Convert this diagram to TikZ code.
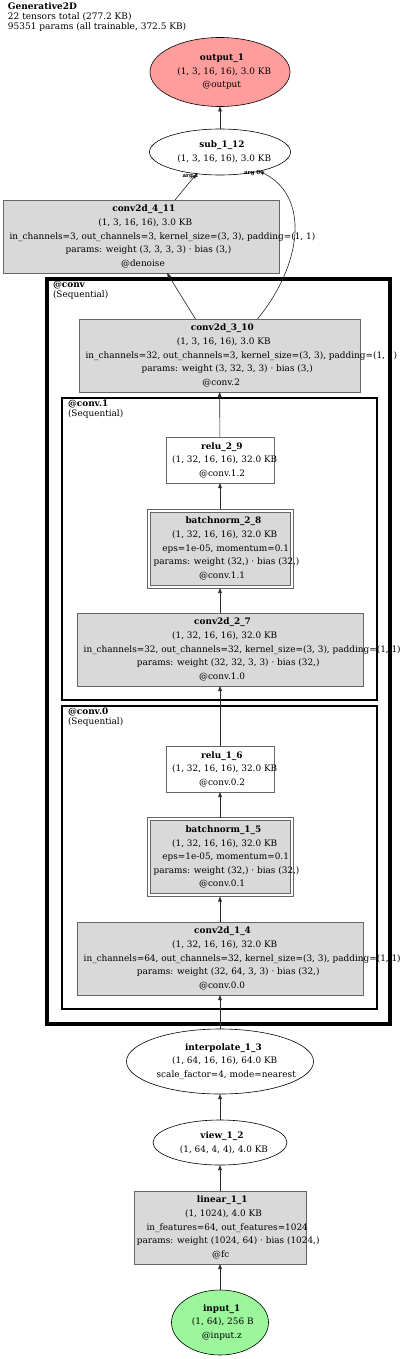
\documentclass[tikz,border=0pt]{standalone}
\usepackage{fontspec}
\setmainfont{DejaVu Serif}
\usepackage{tikz}
\usetikzlibrary{positioning, calc, shapes.geometric, arrows.meta}

\definecolor{opfill}{HTML}{D9D9D9}
\definecolor{opdraw}{HTML}{666666}
\definecolor{outfill}{HTML}{FF9C9C}
\definecolor{infill}{HTML}{9CF79C}

% graphviz starts each line a bit left of true centre
\newlength{\gvw}
\newcommand{\gvline}[1]{\settowidth{\gvw}{#1}%
  \ifdim\gvw>200pt\gvw=0.43\gvw\else\gvw=0.455\gvw\fi
  \makebox[0pt][l]{\hspace{-\gvw}#1}}

\begin{document}
\begin{tikzpicture}[
            x=1pt, y=-1pt,
            every node/.style={inner sep=0pt, outer sep=0pt},
            txt/.style={align=center, font=\fontsize{8.9}{13.6}\selectfont},
            op/.style={rectangle, draw=opdraw, fill=opfill, line width=0.7pt, txt},
            act/.style={op, fill=white},
            bnorm/.style={op},
            blob/.style={ellipse, draw=black, line width=0.6pt, fill=white, txt},
            outp/.style={blob, fill=outfill},
            inp/.style={blob, fill=infill},
            grp/.style={draw=black, line width=#1},
            grplabel/.style={anchor=north west, align=left, font=\fontsize{8.9}{9.8}\selectfont},
            frame/.style={draw=opdraw, line width=0.7pt},
            link/.style={->, >={Triangle[length=5pt, width=3.6pt]}, line width=0.6pt, black!85},
            arglabel/.style={font=\fontsize{5.6}{5.6}\selectfont\bfseries, black}
        ]
            \useasboundingbox (0,0) rectangle (400,1359);

            % --- Header ---
            \node[grplabel, font=\fontsize{9}{10}\selectfont] (title) at (8,3)
              {\textbf{Generative2D}\\22 tensors total (277.2 KB)\\95351 params (all trainable, 372.5 KB)};

            % --- Clusters ---
            \draw[grp=3.6pt] (47,279) rectangle (390,1024);
            \node[grplabel] (lblconv) at (53,281) {\textbf{@conv}\\(Sequential)};
            \draw[grp=2.6pt] (62,398) rectangle (377,700);
            \node[grplabel] (lblconv1) at (68,400) {\textbf{@conv.1}\\(Sequential)};
            \draw[grp=2.6pt] (62,706) rectangle (377,1009);
            \node[grplabel] (lblconv0) at (68,708) {\textbf{@conv.0}\\(Sequential)};

            % --- Node Placement ---
            \node[outp, minimum width=140pt, minimum height=69pt] (out) at (220,72)
              {\gvline{\textbf{output\_1}}\\\gvline{(1, 3, 16, 16), 3.0 KB}\\\gvline{@output}};
            \node[blob, minimum width=141pt, minimum height=46pt] (sub) at (220,152)
              {\gvline{\textbf{sub\_1\_12}}\\\gvline{(1, 3, 16, 16), 3.0 KB}};
            \node[op, minimum width=276pt, minimum height=73pt] (c4) at (141,236.5)
              {\gvline{\textbf{conv2d\_4\_11}}\\\gvline{(1, 3, 16, 16), 3.0 KB}\\
               \gvline{in\_channels=3, out\_channels=3, kernel\_size=(3, 3), padding=(1, 1)}\\
               \gvline{params: weight (3, 3, 3, 3) · bias (3,)}\\\gvline{@denoise}};
            \node[op, minimum width=281pt, minimum height=73pt] (c3) at (219.5,355.5)
              {\gvline{\textbf{conv2d\_3\_10}}\\\gvline{(1, 3, 16, 16), 3.0 KB}\\
               \gvline{in\_channels=32, out\_channels=3, kernel\_size=(3, 3), padding=(1, 1)}\\
               \gvline{params: weight (3, 32, 3, 3) · bias (3,)}\\\gvline{@conv.2}};
            \node[act, minimum width=108pt, minimum height=46pt] (r2) at (220,460)
              {\gvline{\textbf{relu\_2\_9}}\\\gvline{(1, 32, 16, 16), 32.0 KB}\\\gvline{@conv.1.2}};
            \node[bnorm, minimum width=140pt, minimum height=73pt] (bn2) at (220,548.5)
              {\gvline{\textbf{batchnorm\_2\_8}}\\\gvline{(1, 32, 16, 16), 32.0 KB}\\
               \gvline{eps=1e-05, momentum=0.1}\\\gvline{params: weight (32,) · bias (32,)}\\\gvline{@conv.1.1}};
            \draw[frame] ([shift={(-3,-3)}]bn2.north west) rectangle ([shift={(3,3)}]bn2.south east);
            \node[op, minimum width=286pt, minimum height=73pt] (c2) at (220,649.5)
              {\gvline{\textbf{conv2d\_2\_7}}\\\gvline{(1, 32, 16, 16), 32.0 KB}\\
               \gvline{in\_channels=32, out\_channels=32, kernel\_size=(3, 3), padding=(1, 1)}\\
               \gvline{params: weight (32, 32, 3, 3) · bias (32,)}\\\gvline{@conv.1.0}};
            \node[act, minimum width=108pt, minimum height=46pt] (r1) at (220,769)
              {\gvline{\textbf{relu\_1\_6}}\\\gvline{(1, 32, 16, 16), 32.0 KB}\\\gvline{@conv.0.2}};
            \node[bnorm, minimum width=140pt, minimum height=73pt] (bn1) at (220,857)
              {\gvline{\textbf{batchnorm\_1\_5}}\\\gvline{(1, 32, 16, 16), 32.0 KB}\\
               \gvline{eps=1e-05, momentum=0.1}\\\gvline{params: weight (32,) · bias (32,)}\\\gvline{@conv.0.1}};
            \draw[frame] ([shift={(-3,-3)}]bn1.north west) rectangle ([shift={(3,3)}]bn1.south east);
            \node[op, minimum width=286pt, minimum height=73pt] (c1) at (220,958.5)
              {\gvline{\textbf{conv2d\_1\_4}}\\\gvline{(1, 32, 16, 16), 32.0 KB}\\
               \gvline{in\_channels=64, out\_channels=32, kernel\_size=(3, 3), padding=(1, 1)}\\
               \gvline{params: weight (32, 64, 3, 3) · bias (32,)}\\\gvline{@conv.0.0}};
            \node[blob, minimum width=187pt, minimum height=65pt] (interp) at (220,1061.5)
              {\gvline{\textbf{interpolate\_1\_3}}\\\gvline{(1, 64, 16, 16), 64.0 KB}\\\gvline{scale\_factor=4, mode=nearest}};
            \node[blob, minimum width=134pt, minimum height=45pt] (view) at (220,1142.5)
              {\gvline{\textbf{view\_1\_2}}\\\gvline{(1, 64, 4, 4), 4.0 KB}};
            \node[op, minimum width=172pt, minimum height=73pt] (lin) at (220,1227.5)
              {\gvline{\textbf{linear\_1\_1}}\\\gvline{(1, 1024), 4.0 KB}\\
               \gvline{in\_features=64, out\_features=1024}\\
               \gvline{params: weight (1024, 64) · bias (1024,)}\\\gvline{@fc}};
            \node[inp, minimum width=97pt, minimum height=65pt] (in) at (220,1322.5)
              {\gvline{\textbf{input\_1}}\\\gvline{(1, 64), 256 B}\\\gvline{@input.z}};

            % --- Link Drawing ---
            \draw[link] (in) -- (lin);
            \draw[link] (lin) -- (view);
            \draw[link] (view) -- (interp);
            \draw[link] (interp) -- (c1);
            \draw[link] (c1) -- ([yshift=-3pt]bn1.south);
            \draw[link] ([yshift=3pt]bn1.north) -- (r1);
            \draw[link] (r1) -- (c2);
            \draw[link] (c2) -- ([yshift=-3pt]bn2.south);
            \draw[link] ([yshift=3pt]bn2.north) -- (r2);
            \draw[link] (r2) -- (c3);
            \draw[link] ([xshift=-24pt]c3.north) -- ([xshift=26pt]c4.south);
            \draw[link] ([xshift=34pt]c4.north) -- node[arglabel, pos=1, xshift=-6pt, yshift=-2.5pt] {arg 1} (sub.223);
            \draw[link] ([xshift=38pt]c3.north) .. controls +(45,-55) and +(51,25) ..
              node[arglabel, pos=1, xshift=-7pt, yshift=-1.5pt] {arg 0} (sub.334);
            \draw[link] (sub) -- (out);

        \end{tikzpicture}
\end{document}
